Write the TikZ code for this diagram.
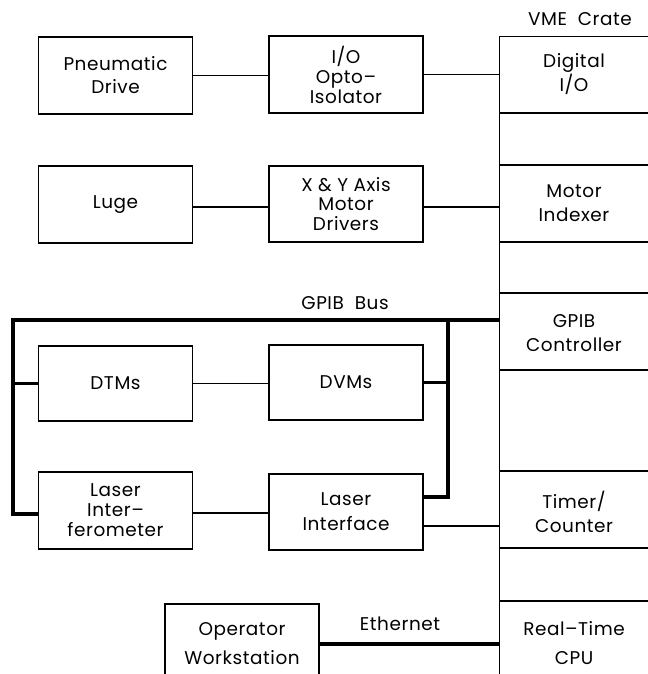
\documentclass[tikz,border=0pt]{standalone}
\usepackage{fontspec}
\setmainfont{Poppins}[LetterSpace=3]
\begin{document}
\begin{tikzpicture}[x=1bp,y=-1bp,
  box/.style={draw,line width=1.3bp,minimum width=154bp,inner sep=0pt,align=center,font=\fontsize{18.5}{23}\selectfont},
  three/.style={font=\fontsize{18.5}{20}\selectfont},
  wide/.style={font=\fontsize{18.5}{29}\selectfont},
  slot/.style={inner sep=0pt,align=center,font=\fontsize{18.5}{24}\selectfont},
  lbl/.style={inner sep=0pt,font=\fontsize{18.5}{22}\selectfont},
  wire/.style={line width=1.3bp},
  bus/.style={line width=3.3bp}]
\useasboundingbox (0,0) rectangle (648,674);
\clip (0,0) rectangle (648,674);
% left column
\node[box,minimum height=77bp] (pd) at (115.5,75.5) {Pneumatic\\Drive};
\node[box,minimum height=77bp] (luge) at (115.5,204.5) {Luge};
\node[box,minimum height=75bp] (dtm) at (115.5,383.5) {DTMs};
\node[box,three,minimum height=77bp] (lfm) at (115.5,510.5) {Laser\\Inter–\\ferometer};
% middle column
\node[box,three,minimum height=77bp] (io) at (346,74.5) {I/O\\Opto–\\Isolator};
\node[box,three,minimum height=76bp] (xy) at (346,204) {X \& Y Axis\\Motor\\Drivers};
\node[box,minimum height=75bp] (dvm) at (346,382.5) {DVMs};
\node[box,minimum height=76bp,font=\fontsize{18.5}{25}\selectfont] (lif) at (346,512) {Laser\\Interface};
\node[box,wide,minimum height=80bp] (op) at (242,644) {Operator\\Workstation};
% VME crate
\node[draw,line width=1.3bp,minimum width=170bp,minimum height=660bp,anchor=north west,inner sep=0pt] (crate) at (499,36) {};
\node[lbl] (vmelbl) at (580,19) {VME\ \ Crate};
\foreach \yy in {113,165,242,293,370,471,548,601}
  \draw[wire] (499,\yy) -- (660,\yy);
\node[slot] (dio) at (574,74.5) {Digital\\I/O};
\node[slot] (mi) at (574,203.5) {Motor\\Indexer};
\node[slot] (gc) at (574,333) {GPIB\\Controller};
\node[slot] (tc) at (574,512) {Timer/\\Counter};
\node[slot,wide] (cpu) at (574,643) {Real–Time\\CPU};
% plain connectors
\draw[wire] (pd.east) -- (pd.east -| io.west);
\draw[wire] (io.east) -- (io.east -| crate.west);
\draw[wire] ([yshift=-2.5bp]luge.east) -- ([yshift=-2.5bp]luge.east -| xy.west);
\draw[wire] ([yshift=-3bp]xy.east) -- ([yshift=-3bp]xy.east -| crate.west);
\draw[wire] (dtm.east) -- (dtm.east -| dvm.west);
\draw[wire] ([yshift=-2.5bp]lfm.east) -- ([yshift=-2.5bp]lfm.east -| lif.west);
\draw[wire] ([yshift=-14bp]lif.east) -- ([yshift=-14bp]lif.east -| crate.west);
% GPIB bus
\coordinate (busL) at (13,320);
\coordinate (busR) at (448,320);
\node[lbl] (gpiblbl) at (345,303) {GPIB\ \ Bus};
\draw[bus] ([yshift=-3.5bp]lfm.west) -| (busL) -- (busL -| crate.west);
\draw[bus] (dtm.west) -- (dtm.west -| busL);
\draw[bus] (busR) |- ([yshift=15bp]lif.east);
\draw[bus] (dvm.east) -- (dvm.east -| busR);
% Ethernet
\draw[bus] (op.east) -- (op.east -| crate.west);
\node[lbl] (ethlbl) at (400,624) {Ethernet};
\end{tikzpicture}
\end{document}
